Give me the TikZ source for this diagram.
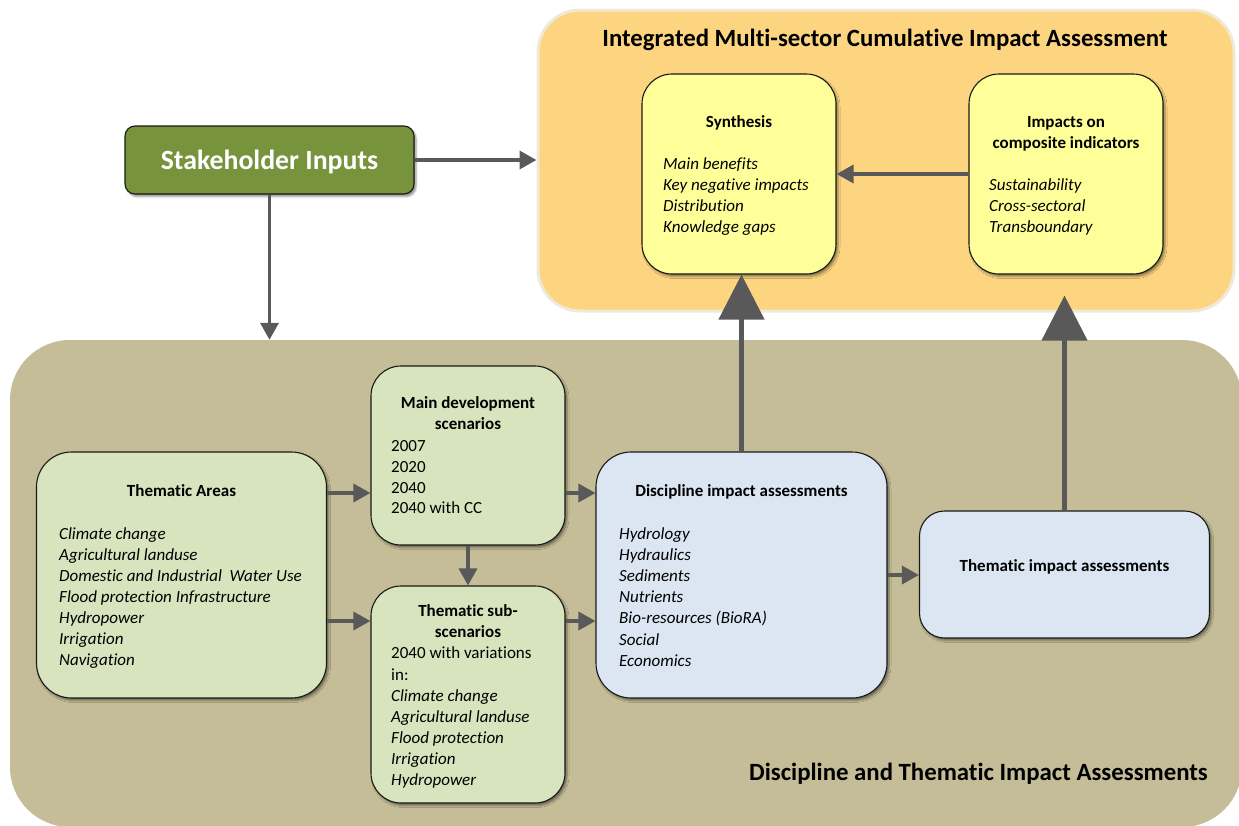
\documentclass[tikz,border=0pt]{standalone}
\usepackage{fontspec}
\setmainfont{Carlito}[Ligatures=NoCommon]
\usetikzlibrary{arrows.meta,shadows.blur}

\definecolor{panelorange}{HTML}{FDD581}
\definecolor{panelrim}{HTML}{EFE9D8}
\definecolor{paneltan}{HTML}{C4BD97}
\definecolor{stakegreen}{HTML}{77933C}
\definecolor{boxyellow}{HTML}{FFFF99}
\definecolor{boxgreen}{HTML}{D7E4BD}
\definecolor{boxblue}{HTML}{DCE6F2}
\definecolor{arrowgray}{HTML}{595959}

\tikzset{
  dims/.style 2 args={minimum width=#1pt, minimum height=#2pt},
  panel/.style={inner sep=0, rectangle},
  card/.style={draw=black!90, line width=1.1pt, inner sep=0, rectangle,
    blur shadow={shadow xshift=2pt, shadow yshift=-2.5pt,
                 shadow blur radius=2pt, shadow opacity=45}},
  arr/.style={draw=arrowgray, line width=3.5pt,
    -{Triangle[length=17pt,width=18pt]}},
  bigarr/.style={draw=arrowgray, line width=4.5pt,
    -{Triangle[length=45pt,width=45pt]}},
  head/.style={font=\fontsize{17}{21}\selectfont\bfseries, inner sep=0, anchor=base},
  item/.style={font=\fontsize{17}{21}\selectfont\itshape, inner sep=0, anchor=base west},
  plain/.style={font=\fontsize{17}{21}\selectfont, inner sep=0, anchor=base west},
  bigtitle/.style={font=\fontsize{24.8}{28}\selectfont\bfseries, inner sep=0},
}

\begin{document}
\begin{tikzpicture}[x=1pt,y=-1pt]
\useasboundingbox (0,0) rectangle (1239,825);
\clip (0,0) rectangle (1239,825);

% background panels
\node[panel, dims={696}{301}, fill=panelorange, draw=panelrim, line width=3pt,
      rounded corners=42pt] (ima) at (886,160.5) {};
\node[panel, dims={1232}{487}, fill=paneltan, rounded corners=60pt] (dta) at (626,583.5) {};

% boxes
\node[card, dims={289}{68}, fill=stakegreen, rounded corners=10pt] (stake) at (269.5,160) {};
\node[card, dims={194}{200}, fill=boxyellow, rounded corners=30pt] (synth) at (739,174) {};
\node[card, dims={194}{200}, fill=boxyellow, rounded corners=30pt] (comp) at (1066,174) {};
\node[card, dims={290}{246}, fill=boxgreen, rounded corners=35pt] (areas) at (181.5,575) {};
\node[card, dims={194}{179}, fill=boxgreen, rounded corners=30pt] (mainsc) at (468,455.5) {};
\node[card, dims={194}{217}, fill=boxgreen, rounded corners=30pt] (subsc) at (468,694.5) {};
\node[card, dims={291}{246}, fill=boxblue, rounded corners=35pt] (disc) at (741.5,575) {};
\node[card, dims={290}{127}, fill=boxblue, rounded corners=25pt] (thimp) at (1064.5,574.5) {};

% panel titles
\node[bigtitle, anchor=base] (imatitle) at (885,46) {Integrated Multi-sector Cumulative Impact Assessment};
\node[bigtitle, anchor=base east] (dtatitle) at (1208,780) {Discipline and Thematic Impact Assessments};

% stakeholder label
\node[font=\fontsize{27.8}{30}\selectfont\bfseries, text=white, inner sep=0, anchor=base]
  (stakelabel) at (269.5,169) {Stakeholder Inputs};

% synthesis
\node[head] (synthhead) at (739,127) {Synthesis};
\foreach \t [count=\i] in {Main benefits, Key negative impacts, Distribution, Knowledge gaps}
  \node[item] (synthitem\i) at (663,{169+21.3*(\i-1)}) {\t};

% composite indicators
\node[head] (comphead1) at (1066,127) {Impacts on};
\node[head] (comphead2) at (1066,148) {composite indicators};
\foreach \t [count=\i] in {Sustainability, Cross-sectoral, Transboundary}
  \node[item] (compitem\i) at (989,{190.5+21*(\i-1)}) {\t};

% thematic areas
\node[head] (areashead) at (181.5,496.5) {Thematic Areas};
\foreach \t [count=\i] in {Climate change, Agricultural landuse,
    Domestic and Industrial\ \ Water Use, Flood protection Infrastructure,
    Hydropower, Irrigation, Navigation}
  \node[item] (areasitem\i) at (59,{539.5+21*(\i-1)}) {\t};

% main development scenarios
\node[head] (mainhead1) at (468,408.5) {Main development};
\node[head] (mainhead2) at (468,429.5) {scenarios};
\foreach \t [count=\i] in {2007, 2020, 2040, 2040 with CC}
  \node[plain] (mainitem\i) at (391,{451.5+20.8*(\i-1)}) {\t};

% thematic sub-scenarios
\node[head] (subhead1) at (468,616.5) {Thematic sub-};
\node[head] (subhead2) at (468,637.5) {scenarios};
\node[plain] (subplain1) at (391,658.5) {2040 with variations};
\node[plain] (subplain2) at (391,680) {in:};
\foreach \t [count=\i] in {Climate change, Agricultural landuse, Flood protection,
    Irrigation, Hydropower}
  \node[item] (subitem\i) at (391,{701.5+21*(\i-1)}) {\t};

% discipline impact assessments
\node[head] (dischead) at (741.5,496.5) {Discipline impact assessments};
\foreach \t [count=\i] in {Hydrology, Hydraulics, Sediments, Nutrients,
    Bio-resources (BioRA), Social, Economics}
  \node[item] (discitem\i) at (619,{539.5+21.1*(\i-1)}) {\t};

% thematic impact assessments
\node[head] (thimphead) at (1064.5,571.5) {Thematic impact assessments};

% connectors
\draw[arr] (stake.east) -- (stake.east -| ima.west);
\draw[arr] (stake.south) -- (stake.south |- dta.north);

\coordinate (a1) at ([yshift=82pt]areas.east);
\coordinate (a2) at ([yshift=-46pt]areas.east);
\coordinate (m1) at ([yshift=-37.5pt]mainsc.east);
\coordinate (s1) at ([yshift=73.5pt]subsc.east);
\draw[arr] (a1) -- (a1 -| mainsc.west);
\draw[arr] (a2) -- (a2 -| subsc.west);
\draw[arr] (m1) -- (m1 -| disc.west);
\draw[arr] (s1) -- (s1 -| disc.west);
\draw[arr] (mainsc.south) -- (subsc.north);
\draw[arr] (disc.east) -- (disc.east -| thimp.west);
\draw[arr] (comp.west) -- (comp.west -| synth.east);

\draw[bigarr] (disc.north) -- (disc.north |- synth.south);
\draw[bigarr, shorten >=21pt] (thimp.north) -- (thimp.north |- comp.south);
\end{tikzpicture}
\end{document}
